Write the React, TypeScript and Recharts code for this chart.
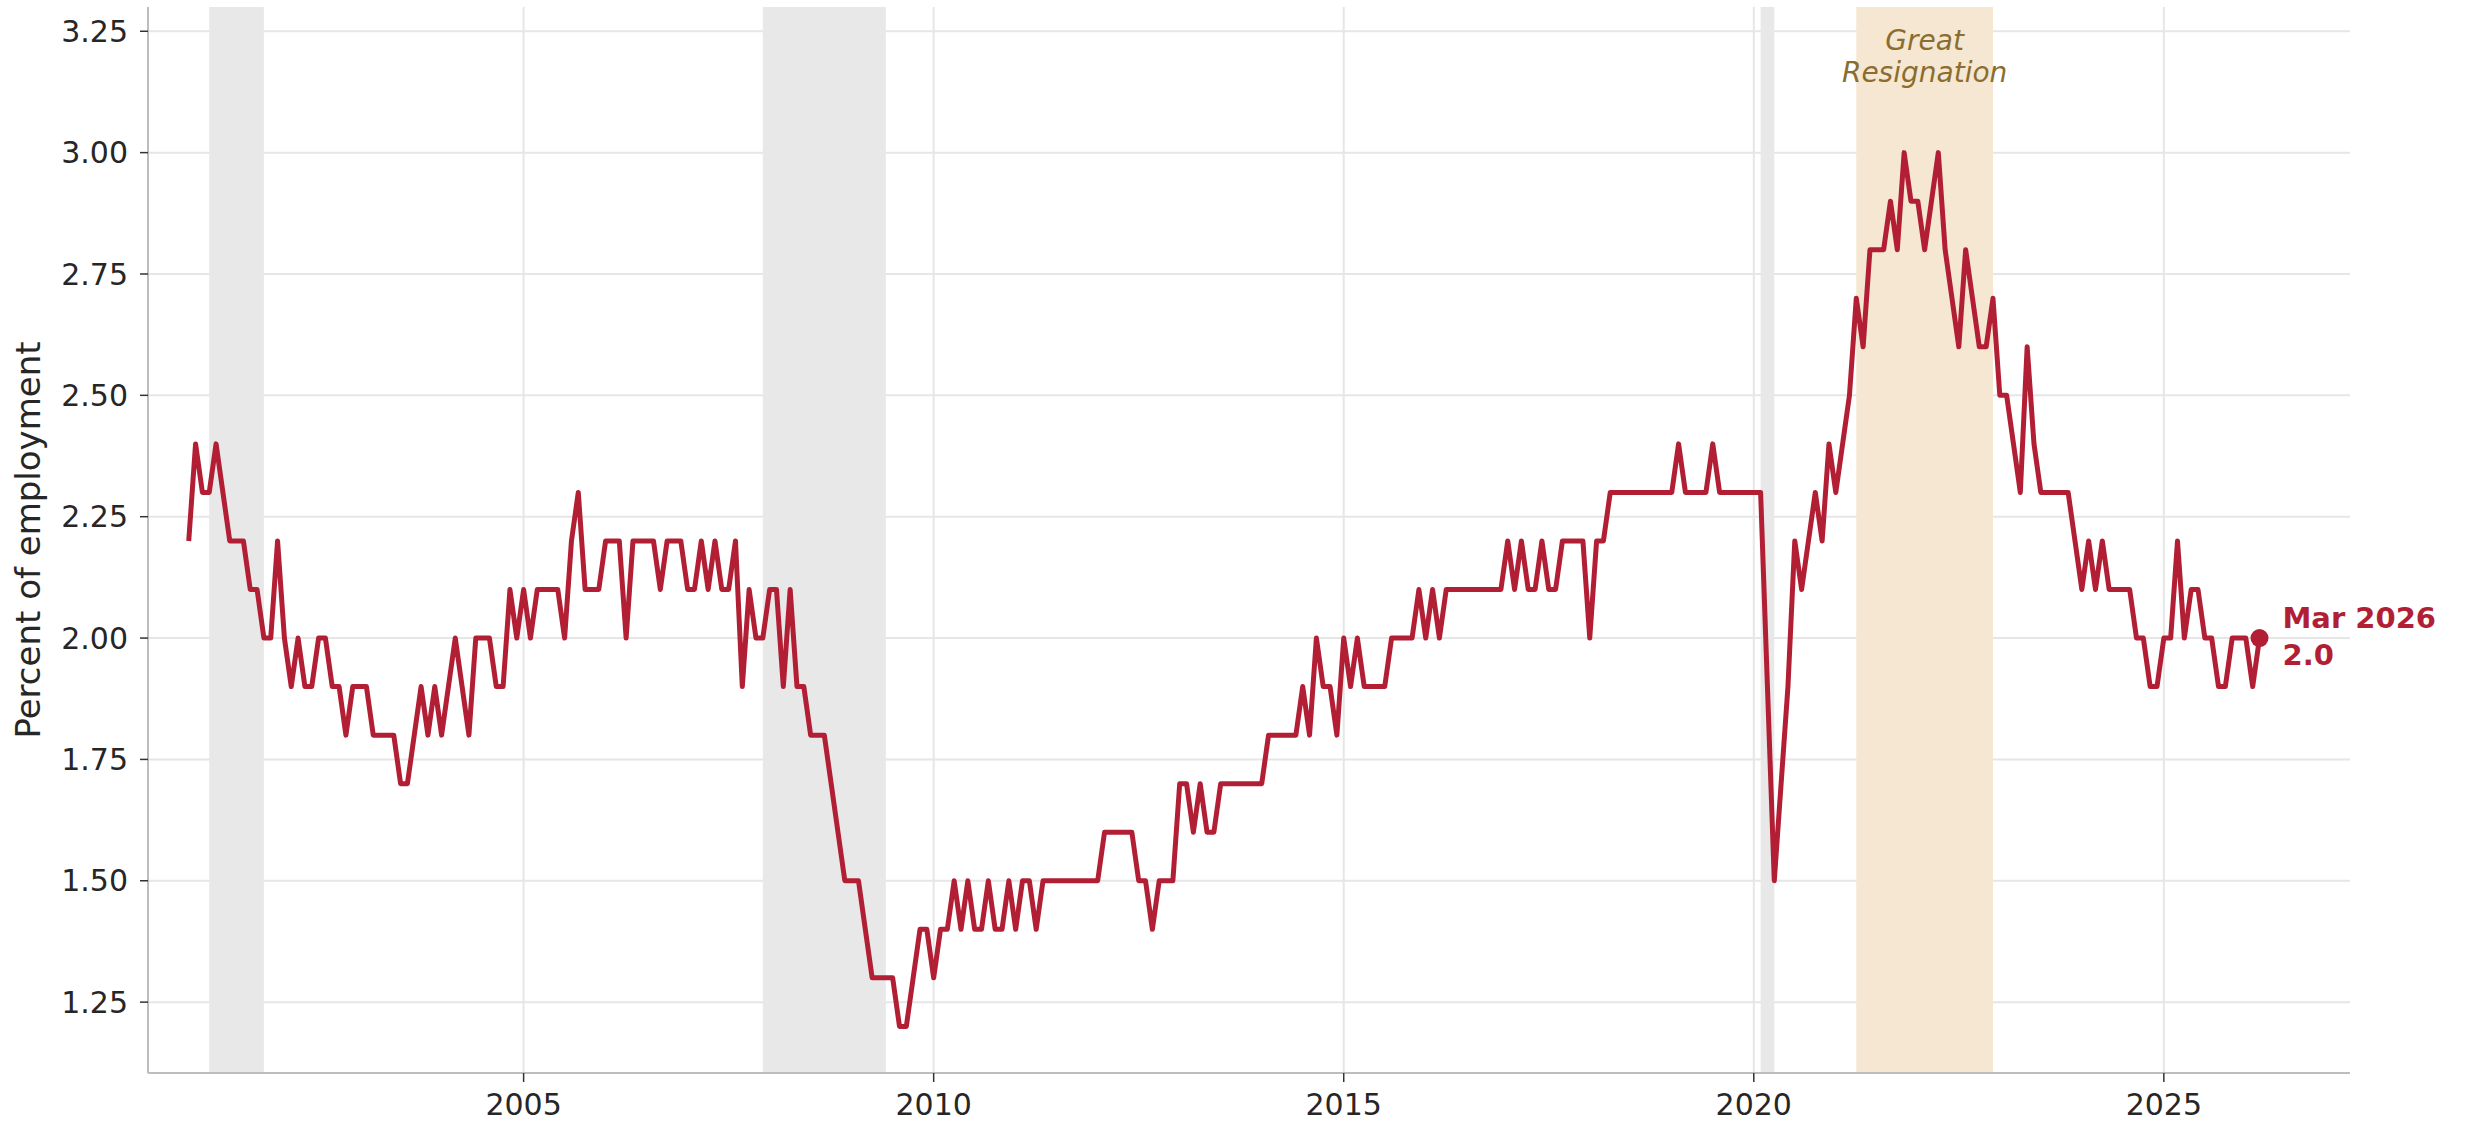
import React from 'react';
import {
  LineChart,
  Line,
  XAxis,
  YAxis,
  CartesianGrid,
  ReferenceArea,
  ReferenceDot,
} from 'recharts';

// Monthly quits rate (percent of employment), starting Dec 2000
const startYear = 2000;
const startMonth = 12;

const rates2000s = [
  2.2,
  2.4, 2.3, 2.3, 2.4, 2.3, 2.2, 2.2, 2.2, 2.1, 2.1, 2.0, 2.0,
  2.2, 2.0, 1.9, 2.0, 1.9, 1.9, 2.0, 2.0, 1.9, 1.9, 1.8, 1.9,
  1.9, 1.9, 1.8, 1.8, 1.8, 1.8, 1.7, 1.7, 1.8, 1.9, 1.8, 1.9,
  1.8, 1.9, 2.0, 1.9, 1.8, 2.0, 2.0, 2.0, 1.9, 1.9, 2.1, 2.0,
  2.1, 2.0, 2.1, 2.1, 2.1, 2.1, 2.0, 2.2, 2.3, 2.1, 2.1, 2.1,
  2.2, 2.2, 2.2, 2.0, 2.2, 2.2, 2.2, 2.2, 2.1, 2.2, 2.2, 2.2,
  2.1, 2.1, 2.2, 2.1, 2.2, 2.1, 2.1, 2.2, 1.9, 2.1, 2.0, 2.0,
  2.1, 2.1, 1.9, 2.1, 1.9, 1.9, 1.8, 1.8, 1.8, 1.7, 1.6, 1.5,
  1.5, 1.5, 1.4, 1.3, 1.3, 1.3, 1.3, 1.2, 1.2, 1.3, 1.4, 1.4,
];

const rates2010s = [
  1.3, 1.4, 1.4, 1.5, 1.4, 1.5, 1.4, 1.4, 1.5, 1.4, 1.4, 1.5,
  1.4, 1.5, 1.5, 1.4, 1.5, 1.5, 1.5, 1.5, 1.5, 1.5, 1.5, 1.5,
  1.5, 1.6, 1.6, 1.6, 1.6, 1.6, 1.5, 1.5, 1.4, 1.5, 1.5, 1.5,
  1.7, 1.7, 1.6, 1.7, 1.6, 1.6, 1.7, 1.7, 1.7, 1.7, 1.7, 1.7,
  1.7, 1.8, 1.8, 1.8, 1.8, 1.8, 1.9, 1.8, 2.0, 1.9, 1.9, 1.8,
  2.0, 1.9, 2.0, 1.9, 1.9, 1.9, 1.9, 2.0, 2.0, 2.0, 2.0, 2.1,
  2.0, 2.1, 2.0, 2.1, 2.1, 2.1, 2.1, 2.1, 2.1, 2.1, 2.1, 2.1,
  2.2, 2.1, 2.2, 2.1, 2.1, 2.2, 2.1, 2.1, 2.2, 2.2, 2.2, 2.2,
  2.0, 2.2, 2.2, 2.3, 2.3, 2.3, 2.3, 2.3, 2.3, 2.3, 2.3, 2.3,
  2.3, 2.4, 2.3, 2.3, 2.3, 2.3, 2.4, 2.3, 2.3, 2.3, 2.3, 2.3,
];

const rates2020s = [
  2.3, 2.3, 1.9, 1.5, 1.7, 1.9, 2.2, 2.1, 2.2, 2.3, 2.2, 2.4,
  2.3, 2.4, 2.5, 2.7, 2.6, 2.8, 2.8, 2.8, 2.9, 2.8, 3.0, 2.9,
  2.9, 2.8, 2.9, 3.0, 2.8, 2.7, 2.6, 2.8, 2.7, 2.6, 2.6, 2.7,
  2.5, 2.5, 2.4, 2.3, 2.6, 2.4, 2.3, 2.3, 2.3, 2.3, 2.3, 2.2,
  2.1, 2.2, 2.1, 2.2, 2.1, 2.1, 2.1, 2.1, 2.0, 2.0, 1.9, 1.9,
  2.0, 2.0, 2.2, 2.0, 2.1, 2.1, 2.0, 2.0, 1.9, 1.9, 2.0, 2.0,
  2.0, 1.9, 2.0,
];

const yTicks = [1.25, 1.5, 1.75, 2.0, 2.25, 2.5, 2.75, 3.0, 3.25];
const xTicks = [2005, 2010, 2015, 2020, 2025];

// [year, month] pairs
const recessionStarts = [[2001, 3], [2007, 12], [2020, 2]];
const recessionEnds = [[2001, 11], [2009, 6], [2020, 4]];
const resignationStart = [2021, 4];
const resignationEnd = [2022, 12];

const monthNames = ['Jan', 'Feb', 'Mar', 'Apr', 'May', 'Jun', 'Jul', 'Aug', 'Sep', 'Oct', 'Nov', 'Dec'];

const toT = (ym: number[]) => ym[0] + (ym[1] - 1) / 12;

const allRates = [...rates2000s, ...rates2010s, ...rates2020s];
const data = allRates.map((v, i) => {
  const m0 = startMonth - 1 + i;
  return {
    t: startYear + m0 / 12,
    year: startYear + Math.floor(m0 / 12),
    month: m0 % 12,
    rate: v,
  };
});
const last = data[data.length - 1];

const LINE = '#b21f35';
const FONT = 'DejaVu Sans';
const TEXT = '#262626';

const GreatLabel = (props: any) => {
  const vb = props.viewBox || {};
  const cx = vb.x + vb.width / 2;
  return (
    <g>
      <text x={cx} y={vb.y + 43} textAnchor="middle" fontFamily={FONT} fontStyle="italic" fontSize={28} fill="#8a6d2f">
        Great
      </text>
      <text x={cx} y={vb.y + 75} textAnchor="middle" fontFamily={FONT} fontStyle="italic" fontSize={28} fill="#8a6d2f">
        Resignation
      </text>
    </g>
  );
};

const LastLabel = (props: any) => {
  const vb = props.viewBox || {};
  const cx = vb.x + vb.width / 2;
  const cy = vb.y + vb.height / 2;
  return (
    <g>
      <text x={cx + 23} y={cy - 10} fontFamily={FONT} fontWeight="bold" fontSize={29} fill={LINE}>
        {`${monthNames[last.month]} ${last.year}`}
      </text>
      <text x={cx + 23} y={cy + 27} fontFamily={FONT} fontWeight="bold" fontSize={29} fill={LINE}>
        {last.rate.toFixed(1)}
      </text>
    </g>
  );
};

const YLabel = (props: any) => {
  const vb = props.viewBox || {};
  const x = vb.x + 28;
  const y = vb.y + vb.height / 2;
  return (
    <text
      x={x}
      y={y}
      transform={`rotate(-90, ${x}, ${y})`}
      textAnchor="middle"
      dominantBaseline="central"
      fontFamily={FONT}
      fontSize={34}
      fill={TEXT}
    >
      Percent of employment
    </text>
  );
};

export default function App() {
  return (
    <div style={{ position: 'absolute', left: 0, top: 0, width: 2470, height: 1124, background: '#ffffff' }}>
      <LineChart width={2470} height={1124} data={data} margin={{ top: 7, right: 120, bottom: 0, left: 0 }}>
        <CartesianGrid stroke="#e6e6e6" strokeWidth={2} syncWithTicks />
        <XAxis
          dataKey="t"
          type="number"
          domain={[2000.42, 2027.27]}
          ticks={xTicks}
          allowDataOverflow
          height={51}
          tickSize={9}
          tickMargin={12}
          axisLine={{ stroke: '#bdbdbd', strokeWidth: 2 }}
          tickLine={{ stroke: '#333333', strokeWidth: 1.5 }}
          tick={{ fontSize: 30, fill: TEXT, fontFamily: FONT }}
        />
        <YAxis
          type="number"
          domain={[1.104, 3.3]}
          ticks={yTicks}
          allowDataOverflow
          width={148}
          tickSize={8}
          tickMargin={12}
          axisLine={{ stroke: '#bdbdbd', strokeWidth: 2 }}
          tickLine={{ stroke: '#333333', strokeWidth: 1.5 }}
          tick={{ fontSize: 30, fill: TEXT, fontFamily: FONT }}
          tickFormatter={(v: number) => v.toFixed(2)}
          label={<YLabel />}
        />
        {recessionStarts.map((s, i) => (
          <ReferenceArea
            key={`rec-${i}`}
            x1={toT(s)}
            x2={toT(recessionEnds[i])}
            fill="#e8e8e8"
            fillOpacity={1}
            stroke="none"
          />
        ))}
        <ReferenceArea
          x1={toT(resignationStart)}
          x2={toT(resignationEnd)}
          fill="#f5e7d1"
          fillOpacity={1}
          stroke="none"
          label={<GreatLabel />}
        />
        <Line
          type="linear"
          dataKey="rate"
          stroke={LINE}
          strokeWidth={5}
          dot={false}
          strokeLinejoin="round"
          isAnimationActive={false}
        />
        <ReferenceDot
          x={last.t}
          y={last.rate}
          r={9}
          fill={LINE}
          stroke="none"
          label={<LastLabel />}
        />
      </LineChart>
    </div>
  );
}
